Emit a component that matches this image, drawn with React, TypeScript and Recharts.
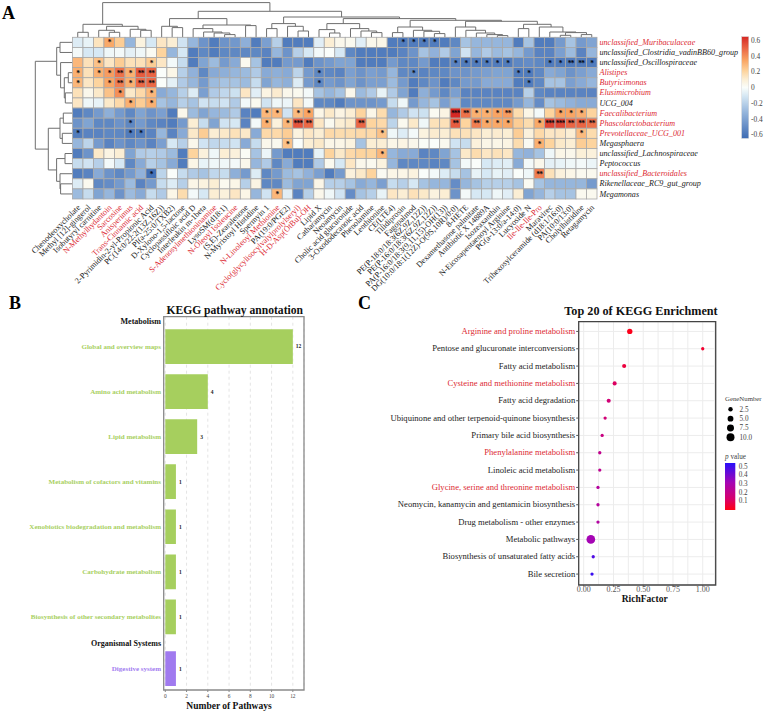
import React from 'react';
import {
  Bar,
  BarChart,
  CartesianGrid,
  Cell,
  LabelList,
  ReferenceArea,
  Scatter,
  ScatterChart,
  XAxis,
  YAxis,
  ZAxis,
} from 'recharts';

const SERIF = '"Liberation Serif", "Times New Roman", serif';
const RED = '#dc2a34';

// panel A: metabolite columns, genus rows, correlation values
const METABOLITES = [
  'Chenodeoxycholate', 'Methyl [12]-gingerol', 'Isobutyryl carnitine', 'N-Methylhydantoin', 'Sarcosine',
  'Anisperimus', 'Trans-Cinnamic acid', '2-Pyrimidin-2-yl-Propionic Acid', 'PC(14:0/22:2(13Z,16Z))', 'PI(a-25:0/TXB2)',
  'D-Xylono-1,5-lactone', 'Cyclopassifloic acid D', 'Interleukin m-1beta', 'S-Adenosylmethioninamine', 'LysoSM(d18:1)',
  'N-Oleoyl Isoleucine', '(S,E)-Zearalenone', 'N-Myristoyl Histidine', 'Spermyin 1', 'N-Linoleoyl Methionine',
  'PA(19:0/PGE2)', 'Cyclo(glycylisocylvalylprolylseryl)', 'H-D-Asp(OtBu)-OH', 'Lipid X', 'Catharamycin',
  'Neoamycin', 'Cholic acid glucuronide', '3-Oxododecanoic acid', 'Phenolamine', 'Lenthionine',
  'CE(LTE4)', 'Tilidiprosin', 'Fagopalmod', 'PE(P-18:0/18:3(6Z,9Z,12Z))', 'PE(P-16:0/18:3(6Z,9Z,12Z))',
  'PA(P-16:0/18:3(9,11,15)-OH(13))', 'DG(10:0/18:1(12Z)-O(9S,10R)/0:0)', '8-HETE', 'Dexamethasone palmitate', 'Antibiotic X 14889A',
  'Isozeaxanthin', 'N-Eicosapentaenoyl Arginine', 'PG(a-13:0/a-14:0)', 'Lucyoside N', 'Ile-Ile-Ile-Pro',
  'Maravirec', 'Trihexosylceramide (d18:1/16:0)', 'PA(10:0/13:0)', 'Cholylhistidine', 'Retagamycin',
];
const RED_METABOLITES = [3, 4, 5, 6, 13, 15, 19, 21, 22, 44];

const GENERA = [
  'unclassified_Muribaculaceae', 'unclassified_Clostridia_vadinBB60_group', 'unclassified_Oscillospiraceae', 'Alistipes',
  'Butyricimonas', 'Elusimicrobium', 'UCG_004', 'Faecalibacterium',
  'Phascolarctobacterium', 'Prevotellaceae_UCG_001', 'Megasphaera', 'unclassified_Lachnospiraceae',
  'Peptococcus', 'unclassified_Bacteroidales', 'Rikenellaceae_RC9_gut_group', 'Megamonas',
];
const RED_GENERA = [0, 3, 4, 5, 7, 8, 9, 13];

const HEAT = [
  [-.08, -.05, .14, .32, .22, -.3, .07, -.1, .13, .1,
    -.12, -.3, -.45, -.55, -.45, -.43, -.33, -.55, -.4, -.2,
    -.55, -.55, -.55, -.07, .1, .04, .03, -.07, .04, .05,
    -.55, -.55, -.55, -.55, -.55, -.55, -.5, -.25, -.3, -.3,
    -.3, -.3, -.55, -.25, -.55, -.55, -.42, -.25, -.42, -.38],
  [-.02, -.1, -.1, -.03, -.02, -.06, -.03, .02, .2, -.3,
    -.1, -.55, -.5, -.55, -.5, -.5, -.5, -.5, -.52, -.3,
    -.45, -.2, -.1, -.02, 0, -.1, -.5, -.55, -.55, -.55,
    -.55, -.52, -.45, -.25, -.32, -.22, -.38, -.12, -.3, -.22,
    -.28, -.25, -.3, -.42, -.52, -.52, -.4, -.28, -.52, -.3],
  [.28, .15, .25, .13, .22, .15, .15, .22, .13, -.02,
    -.15, -.55, -.38, -.28, -.42, -.35, .03, -.25, -.55, -.55,
    -.42, -.42, -.55, -.45, -.42, -.38, -.38, -.55, -.55, -.55,
    -.42, -.5, -.5, -.42, -.55, -.55, -.52, -.55, -.55, -.55,
    -.55, -.55, -.5, -.48, -.5, -.55, -.55, -.55, -.55, -.55],
  [.3, .15, .3, .35, .45, .3, .5, .48, 0, .05,
    -.2, -.32, -.5, -.35, -.33, -.3, -.28, -.22, -.35, -.33,
    -.35, -.18, -.42, -.5, -.5, -.52, -.4, -.45, -.4, -.42,
    -.3, -.5, -.5, -.52, -.5, -.5, -.45, -.45, -.42, -.4,
    -.38, -.38, -.55, -.55, -.5, -.35, -.38, -.45, -.4, -.35],
  [.28, .13, .2, .33, .42, .3, .47, .47, 0, -.06,
    -.22, -.3, -.42, -.28, -.25, -.25, -.28, -.15, -.38, -.3,
    -.33, -.08, -.42, -.5, -.42, -.45, -.38, -.45, -.4, -.4,
    -.28, -.42, -.55, -.5, -.45, -.55, -.5, -.42, -.42, -.35,
    -.35, -.35, -.55, -.55, -.5, -.25, -.25, -.4, -.35, -.3],
  [.15, .04, .12, .25, .38, .12, .18, .28, -.35, -.3,
    -.2, -.08, -.4, -.22, -.17, -.13, .13, -.07, .06, .11,
    .04, .03, -.02, -.25, -.3, -.25, .04, -.28, -.22, -.05,
    -.22, -.38, -.55, -.33, -.42, -.5, -.4, -.52, -.52, -.52,
    -.52, -.52, -.52, -.2, -.5, -.52, -.52, -.52, -.52, -.52],
  [.13, -.03, -.05, .12, .18, .3, .22, .3, -.25, -.3,
    -.2, -.25, -.12, -.15, -.12, -.22, -.02, .03, -.12, -.03,
    -.04, .13, -.02, -.5, -.5, -.55, -.45, -.45, -.45, -.42,
    -.15, -.03, -.42, -.3, -.25, -.4, -.3, -.5, -.5, -.5,
    -.5, -.5, -.42, -.3, -.48, -.25, -.28, -.32, -.35, -.35],
  [-.55, -.5, -.42, -.33, -.42, -.5, -.38, -.45, -.4, -.55,
    .04, -.28, -.38, -.3, -.28, -.22, -.52, -.55, .28, .28,
    -.12, .27, .33, .05, .12, .06, .1, .2, .05, .17,
    -.3, -.22, -.12, -.13, .02, .06, .62, .45, .3, .3,
    .33, .35, .17, .05, -.02, .2, .33, .33, .3, .2],
  [-.45, -.38, -.5, -.5, -.45, -.5, -.42, -.5, -.52, -.55,
    -.42, .1, -.15, -.38, -.12, -.1, -.52, -.02, .3, .08,
    .28, .52, .47, .13, .03, .1, .12, .48, .2, .18,
    -.18, .03, .12, -.03, .15, .15, .5, .2, .42, .32,
    .32, .32, .22, .17, .32, .55, .55, .48, .48, .45],
  [-.55, -.52, -.52, -.5, -.5, -.55, -.55, -.52, -.3, -.52,
    -.35, .12, .22, .1, .12, .15, .12, -.35, .18, .18,
    .22, .07, .13, .1, .18, .17, .17, .18, .18, .25,
    -.03, -.08, -.02, .07, .11, .1, .15, .15, .13, .1,
    .11, .1, .22, .08, .18, .13, .13, .1, .27, .17],
  [-.3, -.18, -.42, -.52, -.45, -.5, -.45, -.52, -.4, -.1,
    -.2, .04, -.12, -.17, -.15, -.12, -.35, -.15, .04, .03,
    .25, 0, .1, .12, .05, .05, .07, -.25, .1, .1,
    .05, .06, .04, .01, 0, .03, -.12, -.15, .08, .05,
    .05, .06, .17, .02, .3, .2, .12, .1, .22, .2],
  [-.55, -.45, .12, .06, .1, -.38, -.22, -.2, -.22, -.28,
    -.55, .2, .08, -.03, .1, .08, .01, -.25, -.04, -.42,
    -.55, -.55, -.55, -.05, .2, .12, .18, .2, .2, .28,
    -.3, -.35, -.35, -.52, -.5, -.38, -.25, .12, .17, .13,
    .15, .13, -.3, -.32, -.25, -.03, .05, .04, .09, .08],
  [-.15, -.12, -.2, -.02, -.1, -.5, -.35, -.2, -.25, -.35,
    -.55, .05, -.05, -.03, -.03, -.02, .04, -.3, -.22, -.5,
    -.35, -.55, -.55, -.22, .03, -.1, .13, .04, .03, .07,
    -.3, -.5, -.5, -.5, -.52, -.5, -.25, -.02, 0, -.1,
    -.08, -.07, -.35, -.02, .04, -.06, -.05, -.03, -.02, -.04],
  [-.55, -.52, -.35, -.45, -.5, -.42, -.32, -.6, -.18, 0,
    -.15, -.22, -.25, -.17, -.15, -.33, -.42, -.08, -.5, -.42,
    -.28, -.25, -.32, -.4, -.55, -.42, .08, .12, .2, .02,
    .05, .05, .07, 0, -.02, -.08, -.15, -.25, -.05, -.1,
    -.05, -.07, 0, -.03, .42, .15, .08, .05, .03, .03],
  [-.08, .03, -.5, -.48, -.42, -.28, -.52, -.42, -.15, -.08,
    -.2, .05, .07, .1, .03, .05, -.2, .06, -.5, -.5,
    -.28, -.38, -.38, .05, -.2, -.2, -.25, -.35, -.3, -.4,
    -.15, -.2, -.1, -.25, -.3, -.3, -.48, -.3, -.25, -.2,
    -.2, -.2, -.25, .02, -.25, -.3, -.3, -.3, -.3, -.42],
  [-.28, -.15, -.38, -.3, -.45, -.28, -.35, -.15, -.22, .05,
    .17, -.02, -.1, .1, .08, .13, .05, -.3, -.12, .28,
    -.07, -.52, -.2, .04, -.03, -.12, -.48, -.25, -.2, -.05,
    .13, .1, .15, .12, .07, .1, -.45, -.02, -.1, -.1,
    -.03, -.07, .1, -.38, -.3, -.2, -.25, -.25, .03, .03],
];

// [row, column, number of asterisks]
const STARS = [
  [0, 3, 1], [0, 31, 1], [0, 32, 1], [0, 33, 1], [0, 34, 1],
  [2, 2, 1], [2, 7, 1], [2, 36, 1], [2, 37, 1], [2, 38, 1], [2, 39, 1], [2, 40, 1], [2, 41, 1], [2, 45, 1], [2, 46, 1], [2, 47, 2], [2, 48, 2], [2, 49, 1],
  [3, 0, 1], [3, 2, 1], [3, 3, 1], [3, 4, 2], [3, 5, 1], [3, 6, 2], [3, 7, 2], [3, 23, 1], [3, 32, 1], [3, 42, 1], [3, 43, 1],
  [4, 0, 1], [4, 3, 1], [4, 4, 2], [4, 5, 1], [4, 6, 2], [4, 7, 2], [4, 23, 1], [4, 43, 1],
  [5, 4, 1], [5, 7, 1], [6, 5, 1], [6, 7, 1],
  [7, 18, 1], [7, 19, 1], [7, 21, 1], [7, 22, 1], [7, 36, 3], [7, 37, 2], [7, 38, 1], [7, 39, 1], [7, 40, 1], [7, 41, 2], [7, 46, 1], [7, 47, 1], [7, 48, 1],
  [8, 5, 1], [8, 18, 1], [8, 20, 1], [8, 21, 3], [8, 22, 2], [8, 27, 2], [8, 36, 2], [8, 38, 2], [8, 39, 1], [8, 40, 1], [8, 41, 1], [8, 44, 1], [8, 45, 3], [8, 46, 3], [8, 47, 2], [8, 48, 2], [8, 49, 2],
  [9, 0, 1], [9, 5, 1], [9, 6, 1], [9, 29, 1], [9, 48, 1],
  [10, 20, 1], [10, 44, 1], [11, 29, 1], [13, 7, 1], [13, 44, 2], [15, 19, 1],
];

// dendrograms: leaf index, or [left, right, merge height]
const COLUMN_TREE: any = [
  [[0, 1, 5], [[2, [3, 4, 5], 7], [5, [6, 7, 7], 8], 11], 13],
  [
    [[8, [9, 10, 9.7], 11], [[11, [12, [13, [14, 15, 2.7], 4.3], 5.3], 8.7], [16, 17, 11.7], 12.3], 18.7],
    [
      [[18, 19, 8.7], [20, [21, 22, 6.3], 11], 13.7],
      [
        [[23, [24, 25, 4.3], 7.7], [26, [27, [28, 29, 4.7], 6.3], 8.7], 13.7],
        [
          [[30, 31, 4.7], [32, [33, [34, 35, 3.7], 6], 7], 10.3],
          [
            [36, [37, [38, [39, [40, 41, 1.7], 2.7], 4.3], 7], 10.3],
            [[42, 43, 8.7], [44, [45, [[46, 47, 2], [48, 49, 2.7], 4.7], 5.3], 10.3], 13],
            16,
          ],
          17,
        ],
        18.7,
      ],
      20.3,
    ],
    26,
  ],
  34.7,
];
const ROW_TREE: any = [
  [[0, 1, 12.3], [2, [[3, 4, 4], [5, 6, 7], 8], 11.7], 15.6],
  [[[7, 8, 9], [9, 10, 10], 12.3], [[11, 12, 7.3], [13, [14, 15, 11.7], 12.3], 15.7], 24],
  37,
];

const HEAT_TICKS = [0.6, 0.4, 0.2, 0, -0.2, -0.4, -0.6];

// panel B
const PATHWAYS = [
  'Global and overview maps', 'Amino acid metabolism', 'Lipid metabolism', 'Metabolism of cofactors and vitamins',
  'Xenobiotics biodegradation and metabolism', 'Carbohydrate metabolism', 'Biosynthesis of other secondary metabolites', 'Digestive system',
];
const PATHWAY_COUNTS = [12, 4, 3, 1, 1, 1, 1, 1];
const PATHWAY_ROWS = [0, 1, 2, 3, 4, 5, 6, 7.15];
const GROUPS = ['Metabolism', 'Organismal Systems'];
const GROUP_ROWS = [-0.555, 6.59];
const COUNT_TICKS = [0, 2, 4, 6, 8, 10, 12];

// panel C
const ENRICHED = [
  'Arginine and proline metabolism', 'Pentose and glucuronate interconversions', 'Fatty acid metabolism',
  'Cysteine and methionine metabolism', 'Fatty acid degradation', 'Ubiquinone and other terpenoid-quinone biosynthesis',
  'Primary bile acid biosynthesis', 'Phenylalanine metabolism', 'Linoleic acid metabolism',
  'Glycine, serine and threonine metabolism', 'Neomycin, kanamycin and gentamicin biosynthesis', 'Drug metabolism - other enzymes',
  'Metabolic pathways', 'Biosynthesis of unsaturated fatty acids', 'Bile secretion',
];
const RED_ENRICHED = [0, 3, 7, 9];
const RICH_FACTOR = [0.387, 1.0, 0.34, 0.26, 0.21, 0.18, 0.155, 0.135, 0.135, 0.12, 0.12, 0.12, 0.06, 0.08, 0.07];
const GENE_NUMBER = [4, 1, 2, 2, 2, 1, 1, 1, 1, 1, 1, 1, 12, 1, 1];
const P_VALUE = [0.03, 0.06, 0.08, 0.13, 0.17, 0.17, 0.2, 0.23, 0.24, 0.27, 0.27, 0.28, 0.33, 0.48, 0.52];
const RICH_TICKS = [0, 0.25, 0.5, 0.75, 1];
const RICH_GRID = [0, 0.125, 0.25, 0.375, 0.5, 0.625, 0.75, 0.875, 1, 1.1];
const GENE_LEGEND = [2.5, 5, 7.5, 10];
const P_LEGEND = [0.5, 0.4, 0.3, 0.2, 0.1];

const HEAT_STOPS: [number, number[]][] = [
  [-0.62, [62, 108, 180]],
  [-0.3, [150, 182, 220]],
  [-0.1, [214, 232, 244]],
  [0, [250, 253, 250]],
  [0.1, [251, 238, 212]],
  [0.2, [253, 212, 158]],
  [0.33, [249, 165, 100]],
  [0.47, [235, 105, 70]],
  [0.62, [214, 40, 36]],
];
const P_STOPS: [number, number[]][] = [
  [0.02, [255, 0, 20]],
  [0.15, [214, 0, 110]],
  [0.33, [165, 5, 180]],
  [0.55, [40, 16, 250]],
];

const lerpColor = (stops: [number, number[]][], v: number) => {
  if (v <= stops[0][0]) return `rgb(${stops[0][1].join(',')})`;
  for (let i = 1; i < stops.length; i++) {
    if (v <= stops[i][0]) {
      const t = (v - stops[i - 1][0]) / (stops[i][0] - stops[i - 1][0]);
      const c = stops[i][1].map((n, k) => Math.round(stops[i - 1][1][k] + (n - stops[i - 1][1][k]) * t));
      return `rgb(${c.join(',')})`;
    }
  }
  return `rgb(${stops[stops.length - 1][1].join(',')})`;
};

const CELL_W = 524.5 / METABOLITES.length;
const CELL_H = 161.7 / GENERA.length;

const heatCells = HEAT.flatMap((row, r) =>
  row.map((v, c) => {
    const star = STARS.find((s) => s[0] === r && s[1] === c);
    return { col: c + 0.5, row: r + 0.5, v, stars: star ? '*'.repeat(star[2]) : '' };
  })
);

const heatCell = (props: any) => {
  const { cx, cy, payload } = props;
  return (
    <g>
      <rect
        x={cx - CELL_W / 2}
        y={cy - CELL_H / 2}
        width={CELL_W}
        height={CELL_H}
        fill={lerpColor(HEAT_STOPS, payload.v)}
        stroke="#a9a9a9"
        strokeWidth={0.8}
      />
      {payload.stars && (
        <text x={cx} y={cy + 3.1} textAnchor="middle" fontSize={7.4} fontWeight="bold" letterSpacing={-0.7} fill="#05070f" fontFamily={SERIF}>
          {payload.stars}
        </text>
      )}
    </g>
  );
};

// flatten a tree into 4-point brackets
const treeLinks = (tree: any) => {
  const links: { p: number; h: number }[][] = [];
  const walk = (node: any): { p: number; h: number } => {
    if (typeof node === 'number') return { p: node + 0.5, h: 0 };
    const a = walk(node[0]);
    const b = walk(node[1]);
    links.push([a, { p: a.p, h: node[2] }, { p: b.p, h: node[2] }, b]);
    return { p: (a.p + b.p) / 2, h: node[2] };
  };
  walk(tree);
  return links;
};

const noDot = () => null;
const linkLine = { stroke: '#6f6f6f', strokeWidth: 1 };

const ColumnTick = ({ x, y, payload }: any) => {
  const i = Math.floor(payload.value);
  const tx = x + 3;
  const ty = y + 7;
  return (
    <text
      x={tx}
      y={ty}
      transform={`rotate(-45 ${tx} ${ty})`}
      textAnchor="end"
      fontSize={8.2}
      fontFamily={SERIF}
      fill={RED_METABOLITES.includes(i) ? RED : '#222'}
    >
      {METABOLITES[i]}
    </text>
  );
};

const RowTick = ({ x, y, payload }: any) => {
  const i = Math.floor(payload.value);
  return (
    <text
      x={x + 0.5}
      y={y + 2.6}
      fontSize={8.1}
      fontStyle="italic"
      fontFamily={SERIF}
      fill={RED_GENERA.includes(i) ? RED : '#222'}
    >
      {GENERA[i]}
    </text>
  );
};

const pathwayData = PATHWAYS.map((name, i) => ({ name, count: PATHWAY_COUNTS[i], row: PATHWAY_ROWS[i] }));

const PathwayTick = ({ x, y, payload }: any) => {
  const g = GROUP_ROWS.indexOf(payload.value);
  const p = PATHWAY_ROWS.indexOf(payload.value);
  const label = g >= 0 ? GROUPS[g] : PATHWAYS[p];
  const fill = g >= 0 ? '#111' : p === 7 ? '#a27df0' : '#a8d05f';
  return (
    <text
      x={x}
      y={y + 2.4}
      textAnchor="end"
      fontSize={g >= 0 ? 8 : 7}
      fontWeight="bold"
      fontFamily={SERIF}
      fill={fill}
    >
      {label}
    </text>
  );
};

const enrichedData = ENRICHED.map((name, i) => ({
  rich: RICH_FACTOR[i],
  genes: GENE_NUMBER[i],
  p: P_VALUE[i],
  row: i + 1,
}));

const EnrichedTick = ({ x, y, payload }: any) => {
  const i = payload.value - 1;
  return (
    <text
      x={x}
      y={y + 2.7}
      textAnchor="end"
      fontSize={8.6}
      fontFamily={SERIF}
      fill={RED_ENRICHED.includes(i) ? RED : '#222'}
    >
      {ENRICHED[i]}
    </text>
  );
};

const geneLegendData = GENE_LEGEND.map((genes, i) => ({ x: 0.5, row: i + 1, genes }));

const GeneLegendTick = ({ x, y, payload }: any) => (
  <text x={x + 1.5} y={y + 2.4} fontSize={7.2} fontFamily={SERIF} fill="#444">
    {GENE_LEGEND[payload.value - 1].toFixed(1)}
  </text>
);

const place = (left: number, top: number): React.CSSProperties => ({ position: 'absolute', left, top });

export default function App() {
  return (
    <div style={{ position: 'absolute', left: 0, top: 0, width: 768, height: 714, background: '#fff', fontFamily: SERIF, overflow: 'hidden' }}>
      {/* A: column dendrogram */}
      <div style={place(0, 0)}>
        <ScatterChart width={768} height={38} margin={{ top: 2.3, right: 171, bottom: 0.7, left: 72.5 }}>
          <XAxis type="number" dataKey="p" domain={[0, 50]} hide />
          <YAxis type="number" dataKey="h" domain={[0, 35]} hide />
          {treeLinks(COLUMN_TREE).map((link, i) => (
            <Scatter key={i} data={link} line={linkLine} shape={noDot} isAnimationActive={false} />
          ))}
        </ScatterChart>
      </div>
      {/* A: row dendrogram */}
      <div style={place(0, 0)}>
        <ScatterChart width={73} height={200} margin={{ top: 37.3, right: 0.7, bottom: 1, left: 35.3 }}>
          <XAxis type="number" dataKey="h" domain={[0, 37]} reversed hide />
          <YAxis type="number" dataKey="p" domain={[0, 16]} reversed hide />
          {treeLinks(ROW_TREE).map((link, i) => (
            <Scatter key={i} data={link} line={linkLine} shape={noDot} isAnimationActive={false} />
          ))}
        </ScatterChart>
      </div>
      {/* A: heatmap */}
      <div style={place(0, 0)}>
        <ScatterChart width={768} height={295} margin={{ top: 37.3, right: 0, bottom: 0, left: 72.5 }}>
          <XAxis
            type="number"
            dataKey="col"
            domain={[0, 50]}
            ticks={METABOLITES.map((_, i) => i + 0.5)}
            interval={0}
            height={96}
            tick={ColumnTick}
            tickLine={false}
            axisLine={false}
            tickSize={0}
          />
          <YAxis
            type="number"
            dataKey="row"
            orientation="right"
            domain={[0, 16]}
            reversed
            ticks={GENERA.map((_, i) => i + 0.5)}
            interval={0}
            width={171}
            tick={RowTick}
            tickLine={false}
            axisLine={false}
            tickSize={0}
          />
          <Scatter data={heatCells} shape={heatCell} isAnimationActive={false} />
        </ScatterChart>
      </div>

      {/* B */}
      <div style={place(0, 290)}>
        <BarChart
          width={320}
          height={424}
          layout="vertical"
          data={pathwayData}
          margin={{ top: 26.7, right: 16, bottom: 0, left: 0 }}
        >
          <CartesianGrid horizontal={false} stroke="#e4e4e4" strokeDasharray="3 3" />
          <XAxis
            type="number"
            dataKey="count"
            domain={[-0.15, 13.05]}
            ticks={COUNT_TICKS}
            interval={0}
            allowDataOverflow
            height={24}
            tick={{ fontSize: 5.4, fill: '#444', fontFamily: SERIF }}
            tickLine={{ stroke: '#888' }}
            tickSize={2}
            tickMargin={2}
            axisLine={false}
          />
          <YAxis
            type="number"
            dataKey="row"
            domain={[-0.666, 7.62]}
            allowDataOverflow
            ticks={[GROUP_ROWS[0], ...PATHWAY_ROWS.slice(0, 7), GROUP_ROWS[1], PATHWAY_ROWS[7]]}
            interval={0}
            width={163.7}
            tick={PathwayTick}
            tickLine={false}
            axisLine={false}
            tickSize={0}
            tickMargin={2.7}
          />
          <Bar dataKey="count" barSize={34.7} isAnimationActive={false}>
            {pathwayData.map((d, i) => (
              <Cell key={d.name} fill={i === 7 ? '#a07aef' : '#a6cf5e'} />
            ))}
            <LabelList
              dataKey="count"
              position="right"
              offset={3}
              style={{ fontSize: 5.5, fontWeight: 'bold', fill: '#222', fontFamily: SERIF }}
            />
          </Bar>
          <ReferenceArea x1={-0.15} x2={13.05} y1={-0.666} y2={7.62} fill="none" stroke="#8a8a8a" strokeWidth={1.3} />
        </BarChart>
      </div>

      {/* C */}
      <div style={place(340, 290)}>
        <ScatterChart width={400} height={330} margin={{ top: 31.7, right: 24.3, bottom: 0, left: 0 }}>
          <CartesianGrid stroke="#ececec" verticalValues={RICH_GRID} />
          <XAxis
            type="number"
            dataKey="rich"
            domain={[-0.042, 1.109]}
            ticks={RICH_TICKS}
            interval={0}
            allowDataOverflow
            height={35}
            tickFormatter={(v: number) => v.toFixed(2)}
            tick={{ fontSize: 8, fill: '#555', fontFamily: SERIF }}
            tickLine={{ stroke: '#555' }}
            tickSize={1.5}
            tickMargin={0}
            axisLine={false}
          />
          <YAxis
            type="number"
            dataKey="row"
            domain={[0.44, 15.63]}
            reversed
            ticks={ENRICHED.map((_, i) => i + 1)}
            interval={0}
            width={238.7}
            tick={EnrichedTick}
            tickLine={{ stroke: '#555' }}
            tickSize={2.5}
            tickMargin={1}
            axisLine={false}
          />
          <ZAxis type="number" dataKey="genes" domain={[1, 12]} range={[8.5, 59]} />
          <Scatter data={enrichedData} isAnimationActive={false}>
            {enrichedData.map((d) => (
              <Cell key={d.row} fill={lerpColor(P_STOPS, d.p)} />
            ))}
          </Scatter>
          <ReferenceArea x1={-0.042} x2={1.109} y1={0.44} y2={15.63} fill="none" stroke="#444" strokeWidth={1.3} />
        </ScatterChart>
      </div>

      {/* C: GeneNumber legend */}
      <div style={place(725, 400)}>
        <ScatterChart width={43} height={47} margin={{ top: 4.6, right: 0, bottom: 5, left: 0 }}>
          <XAxis type="number" dataKey="x" domain={[0, 1]} hide />
          <YAxis
            type="number"
            dataKey="row"
            orientation="right"
            domain={[0.5, 4.5]}
            reversed
            ticks={[1, 2, 3, 4]}
            interval={0}
            width={32}
            tick={GeneLegendTick}
            tickLine={false}
            axisLine={false}
            tickSize={0}
          />
          <ZAxis type="number" dataKey="genes" domain={[1, 12]} range={[8.5, 59]} />
          <Scatter data={geneLegendData} fill="#000" isAnimationActive={false} />
        </ScatterChart>
      </div>

      {/* titles, panel letters and colour bars */}
      <svg width={768} height={714} style={{ ...place(0, 0), pointerEvents: 'none' }} fontFamily={SERIF}>
        <defs>
          <linearGradient id="heatBar" x1="0" y1="0" x2="0" y2="1">
            {HEAT_STOPS.map(([v]) => (
              <stop key={v} offset={(0.62 - v) / 1.24} stopColor={lerpColor(HEAT_STOPS, v)} />
            )).reverse()}
          </linearGradient>
          <linearGradient id="pBar" x1="0" y1="1" x2="0" y2="0">
            {P_STOPS.map(([v]) => (
              <stop key={v} offset={(v - 0.02) / 0.53} stopColor={lerpColor(P_STOPS, v)} />
            ))}
          </linearGradient>
        </defs>

        <text x={2} y={19} fontSize={18} fontWeight="bold">A</text>
        <text x={9} y={309} fontSize={18} fontWeight="bold">B</text>
        <text x={358} y={309} fontSize={18} fontWeight="bold">C</text>

        <rect x={741.7} y={36.7} width={7} height={101.6} fill="url(#heatBar)" stroke="#ccc" strokeWidth={0.4} />
        {HEAT_TICKS.map((v) => (
          <text key={v} x={751} y={87.5 - v * 78.7 + 2.6} fontSize={7.4} fill="#444">
            {v}
          </text>
        ))}

        <text x={234.7} y={314} textAnchor="middle" fontSize={11.6} fontWeight="bold" fill="#111">KEGG pathway annotation</text>
        <text x={229} y={709} textAnchor="middle" fontSize={9.5} fontWeight="bold" fill="#111">Number of Pathways</text>

        <text x={641} y={315} textAnchor="middle" fontSize={12.2} fontWeight="bold" fill="#111">Top 20 of KEGG Enrichment</text>
        <text x={644.7} y={602} textAnchor="middle" fontSize={9.5} fontWeight="bold" fill="#111">RichFactor</text>

        <text x={725} y={400.5} fontSize={6.8} fill="#444">GeneNumber</text>
        <text x={725} y={459} fontSize={7.2} fill="#444"><tspan fontStyle="italic">p</tspan> value</text>
        <rect x={725} y={463} width={10.3} height={47} fill="url(#pBar)" />
        {P_LEGEND.map((v, i) => (
          <text key={v} x={738.7} y={466.3 + i * 8.6 + 2.4} fontSize={7.2} fill="#444">
            {v}
          </text>
        ))}
      </svg>
    </div>
  );
}
